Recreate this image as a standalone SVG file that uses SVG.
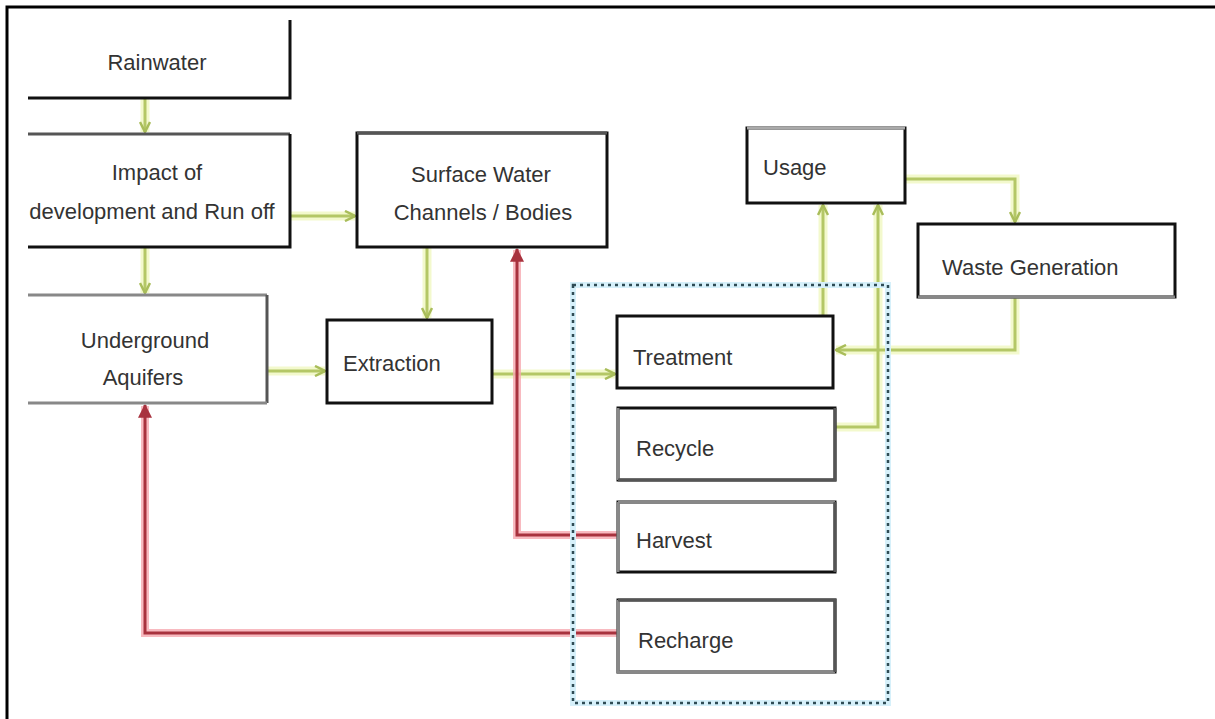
<svg xmlns="http://www.w3.org/2000/svg" width="1215" height="719" viewBox="0 0 1215 719">
<style>
.t{font-family:"Liberation Sans",Arial,sans-serif;font-size:22px;fill:#333}
.bx{fill:#fff;stroke:#111;stroke-width:3}
.ed{stroke:#111;stroke-width:3;fill:none}
.gr{stroke:#888;stroke-width:3;fill:none}
.dg{stroke:#555;stroke-width:3;fill:none}
.gglow{stroke:#eef6b8;stroke-width:9;fill:none;opacity:.7}
.g{stroke:#b4c766;stroke-width:3;fill:none}
.rglow{stroke:#f6a9b0;stroke-width:8;fill:none;opacity:.8}
.r{stroke:#a8323e;stroke-width:3;fill:none}
</style>
<defs>
<marker id="ga" viewBox="0 0 12 12" refX="11" refY="6" markerWidth="12" markerHeight="12" markerUnits="userSpaceOnUse" orient="auto">
<path d="M1,1 L11,6 L1,11" fill="none" stroke="#a9bd5a" stroke-width="2.5"/>
</marker>
<marker id="ra" viewBox="0 0 12 12" refX="11" refY="6" markerWidth="14" markerHeight="14" markerUnits="userSpaceOnUse" orient="auto">
<path d="M0,0 L12,6 L0,12 Z" fill="#a8323e"/>
</marker>
</defs>
<rect width="1215" height="719" fill="#fff"/>
<path d="M7,719 L7,7 L1215,7" fill="none" stroke="#000" stroke-width="3"/>

<g id="connectors">
<g id="green-glow">
<path class="gglow" d="M145,98 L145,132"/>
<path class="gglow" d="M145,247 L145,293"/>
<path class="gglow" d="M290,216 L355,216"/>
<path class="gglow" d="M267,371 L325,371"/>
<path class="gglow" d="M427,247 L427,318"/>
<path class="gglow" d="M492,374 L615,374"/>
<path class="gglow" d="M823,315 L823,205"/>
<path class="gglow" d="M835,427 L878,427 L878,205"/>
<path class="gglow" d="M905,179 L1015,179 L1015,222"/>
<path class="gglow" d="M1015,297 L1015,350 L836,350"/>
</g>
<path class="g" d="M145,98 L145,132" marker-end="url(#ga)"/>
<path class="g" d="M145,247 L145,293" marker-end="url(#ga)"/>
<path class="g" d="M290,216 L355,216" marker-end="url(#ga)"/>
<path class="g" d="M267,371 L325,371" marker-end="url(#ga)"/>
<path class="g" d="M427,247 L427,318" marker-end="url(#ga)"/>
<path class="g" d="M492,374 L615,374" marker-end="url(#ga)"/>
<path class="g" d="M823,315 L823,205" marker-end="url(#ga)"/>
<path class="g" d="M835,427 L878,427 L878,205" marker-end="url(#ga)"/>
<path class="g" d="M905,179 L1015,179 L1015,222" marker-end="url(#ga)"/>
<path class="g" d="M1015,297 L1015,350 L836,350" marker-end="url(#ga)"/>
<path class="rglow" d="M618,535 L517,535 L517,250"/>
<path class="rglow" d="M618,633 L145,633 L145,406"/>
<path class="r" d="M618,535 L517,535 L517,249" marker-end="url(#ra)"/>
<path class="r" d="M618,633 L145,633 L145,405" marker-end="url(#ra)"/>
</g>

<g id="group-box">
<rect x="573" y="285" width="315" height="418" fill="none" stroke="#d6f0fa" stroke-width="6"/>
<rect x="573" y="285" width="315" height="418" fill="none" stroke="#2f4c55" stroke-width="2.5" stroke-dasharray="3 4"/>
</g>

<g id="rainwater">
<path class="ed" d="M28,98 L290,98 L290,20"/>
<text class="t" x="157" y="70" text-anchor="middle" font-size="21">Rainwater</text>
</g>

<g id="impact">
<path class="dg" d="M28,134 L290,134"/>
<path class="ed" d="M290,134 L290,247 L28,247"/>
<text class="t" x="157" y="180" text-anchor="middle" font-size="22.5">Impact of</text>
<text class="t" x="152" y="219" text-anchor="middle" font-size="19.5">development and Run off</text>
</g>

<g id="underground">
<path class="gr" d="M28,295 L267,295"/>
<path class="dg" d="M267,295 L267,403"/>
<path class="gr" d="M28,403 L267,403"/>
<text class="t" x="145" y="348" text-anchor="middle" font-size="23.5">Underground</text>
<text class="t" x="143" y="385" text-anchor="middle" font-size="23.5">Aquifers</text>
</g>

<g id="surface">
<rect class="bx" x="357" y="133" width="250" height="114"/>
<path class="dg" d="M357,133 L607,133"/>
<text class="t" x="481" y="182" text-anchor="middle" font-size="22.5">Surface Water</text>
<text class="t" x="483" y="220" text-anchor="middle" font-size="22.5">Channels / Bodies</text>
</g>

<g id="extraction">
<rect class="bx" x="327" y="320" width="165" height="83"/>
<text class="t" x="343" y="371" font-size="23.5">Extraction</text>
</g>

<g id="usage">
<rect class="bx" x="747" y="128" width="158" height="75"/>
<path d="M747,128 L905,128" stroke="#aaa" stroke-width="3"/>
<text class="t" x="763" y="175" font-size="22.5">Usage</text>
</g>

<g id="waste">
<rect class="bx" x="918" y="224" width="257" height="73"/>
<path class="gr" d="M918,297 L1175,297"/>
<text class="t" x="942" y="275" font-size="23.5">Waste Generation</text>
</g>

<g id="treatment">
<rect class="bx" x="617" y="316" width="216" height="72"/>
<text class="t" x="633" y="365" font-size="24">Treatment</text>
</g>

<g id="recycle">
<rect class="bx" x="618" y="408" width="217" height="72"/>
<path class="gr" d="M618,408 L618,480"/>
<path class="dg" d="M618,480 L835,480 L835,408"/>
<text class="t" x="636" y="456">Recycle</text>
</g>

<g id="harvest">
<rect class="bx" x="618" y="502" width="217" height="70"/>
<path class="gr" d="M618,502 L835,502 M618,502 L618,572"/>
<path class="dg" d="M835,502 L835,572"/>
<text class="t" x="636" y="548" font-size="24">Harvest</text>
</g>

<g id="recharge">
<rect class="bx" x="618" y="600" width="217" height="72"/>
<path class="gr" d="M618,600 L618,672 L835,672"/>
<path class="dg" d="M618,600 L835,600 L835,672"/>
<text class="t" x="638" y="648" font-size="21.5">Recharge</text>
</g>
</svg>
